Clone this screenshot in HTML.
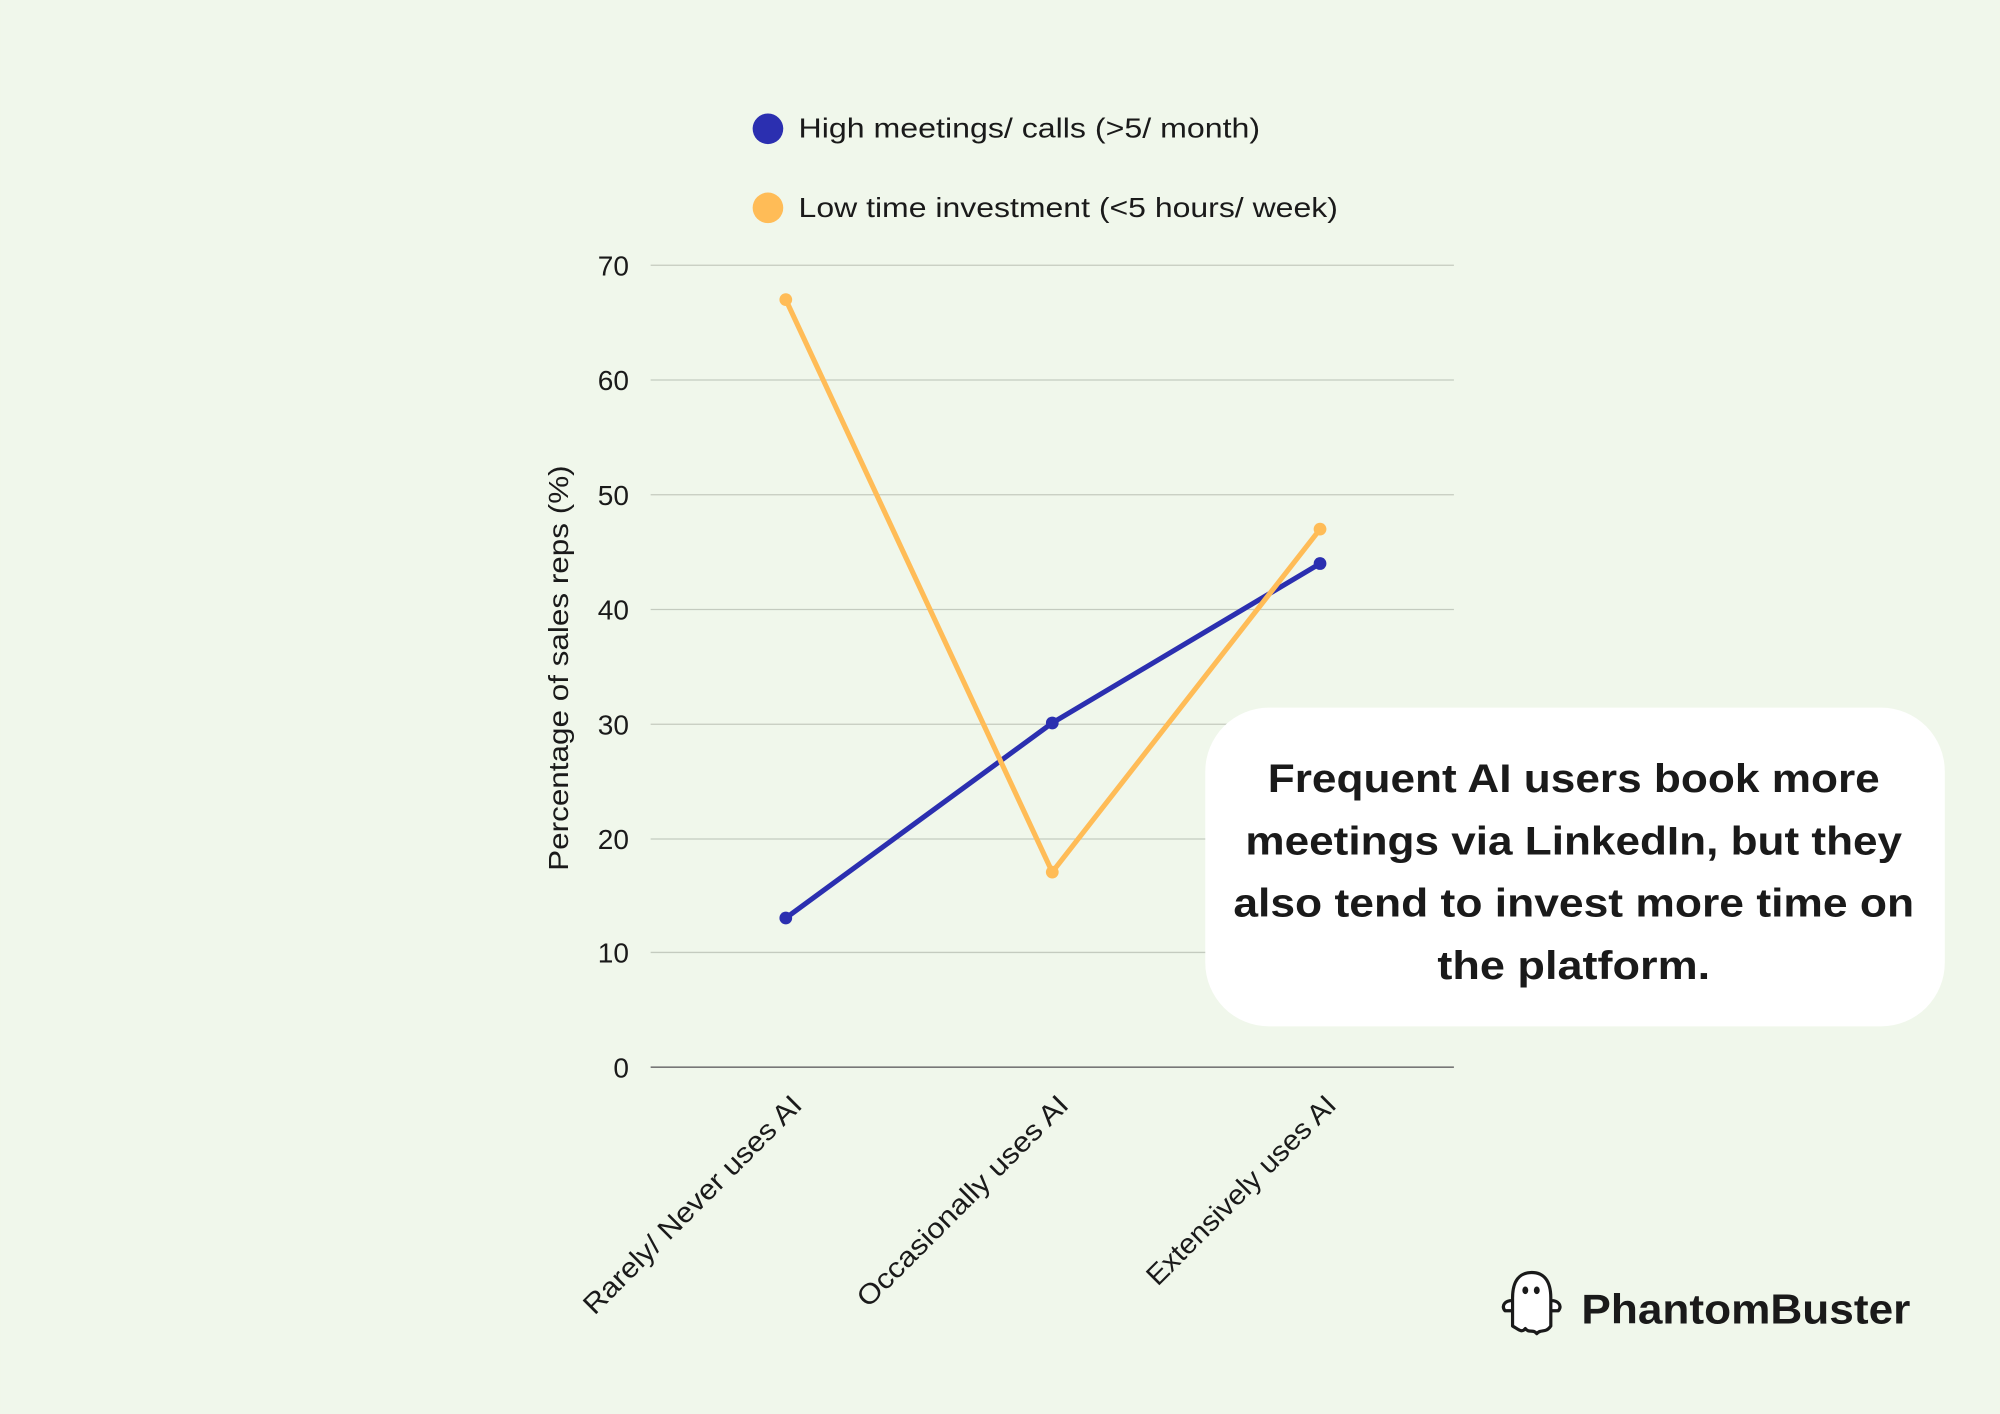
<!DOCTYPE html>
<html><head><meta charset="utf-8"><style>
html,body{margin:0;padding:0;background:#f0f7eb;}
svg{display:block;}
text{font-family:"Liberation Sans",sans-serif;fill:#1a1a1a;}
</style></head><body>
<svg width="2000" height="1414" viewBox="0 0 1568 1109" xmlns="http://www.w3.org/2000/svg">
<rect width="1568" height="1109" fill="#f0f7eb"/>
<circle cx="602" cy="101" r="12" fill="#2b2fb0"/>
<text x="626" y="108" font-size="22" textLength="362" lengthAdjust="spacingAndGlyphs">High meetings/ calls (&gt;5/ month)</text>
<circle cx="602" cy="163" r="12" fill="#ffbc57"/>
<text x="626" y="170" font-size="22" textLength="423" lengthAdjust="spacingAndGlyphs">Low time investment (&lt;5 hours/ week)</text>
<g stroke="#c4cbbf" stroke-width="1">
<line x1="510" x2="1140" y1="208" y2="208"/>
<line x1="510" x2="1140" y1="298" y2="298"/>
<line x1="510" x2="1140" y1="388" y2="388"/>
<line x1="510" x2="1140" y1="478" y2="478"/>
<line x1="510" x2="1140" y1="568" y2="568"/>
<line x1="510" x2="1140" y1="658" y2="658"/>
<line x1="510" x2="1140" y1="747" y2="747"/>
</g>
<line x1="510" x2="1140" y1="837" y2="837" stroke="#777" stroke-width="1.2"/>
<g font-size="22" text-anchor="end">
<text x="493" y="216">70</text><text x="493" y="306">60</text><text x="493" y="396">50</text>
<text x="493" y="486">40</text><text x="493" y="576">30</text><text x="493" y="666">20</text>
<text x="493" y="755">10</text><text x="493" y="845">0</text>
</g>
<text transform="translate(445,524) rotate(-90)" font-size="22" text-anchor="middle" textLength="318" lengthAdjust="spacingAndGlyphs">Percentage of sales reps (%)</text>
<g font-size="22" text-anchor="end">
<text transform="translate(630,868) rotate(-45)" textLength="232" lengthAdjust="spacingAndGlyphs">Rarely/ Never uses AI</text>
<text transform="translate(839,868) rotate(-45)" textLength="224" lengthAdjust="spacingAndGlyphs">Occasionally uses AI</text>
<text transform="translate(1049,868) rotate(-45)" textLength="200" lengthAdjust="spacingAndGlyphs">Extensively uses AI</text>
</g>
<polyline points="616,720 825,567 1035,442" fill="none" stroke="#2b2fb0" stroke-width="4" stroke-linejoin="round"/>
<g fill="#2b2fb0"><circle cx="616" cy="720" r="5"/><circle cx="825" cy="567" r="5"/><circle cx="1035" cy="442" r="5"/></g>
<polyline points="616,235 825,684 1035,415" fill="none" stroke="#ffbc57" stroke-width="4" stroke-linejoin="round"/>
<g fill="#ffbc57"><circle cx="616" cy="235" r="5"/><circle cx="825" cy="684" r="5"/><circle cx="1035" cy="415" r="5"/></g>
<rect x="945" y="555" width="580" height="250" rx="50" fill="#ffffff"/>
<g font-size="31" font-weight="bold" text-anchor="middle">
<text x="1234" y="621" textLength="480" lengthAdjust="spacingAndGlyphs">Frequent AI users book more</text>
<text x="1234" y="670" textLength="515" lengthAdjust="spacingAndGlyphs">meetings via LinkedIn, but they</text>
<text x="1234" y="719" textLength="534" lengthAdjust="spacingAndGlyphs">also tend to invest more time on</text>
<text x="1234" y="768" textLength="214" lengthAdjust="spacingAndGlyphs">the platform.</text>
</g>
<path d="M1186,1040 L1186,1018 C1186,1004 1192,998 1201,998 C1210,998 1216,1004 1216,1018 L1216,1040 C1212,1046 1208,1042 1205,1046 C1202,1042 1199,1046 1196,1042 C1193,1046 1190,1042 1186,1040 Z M1186,1020 C1180,1020 1177,1024 1180,1028 L1186,1028 M1216,1020 C1222,1020 1225,1024 1222,1028 L1216,1028" fill="#fff" stroke="#1a1a1a" stroke-width="2.5" stroke-linejoin="round"/>
<ellipse cx="1196" cy="1012" rx="2.3" ry="3" fill="#1a1a1a"/>
<ellipse cx="1205" cy="1012" rx="2.3" ry="3" fill="#1a1a1a"/>
<text x="1240" y="1038" font-size="33" font-weight="bold" textLength="258" lengthAdjust="spacingAndGlyphs">PhantomBuster</text>
</svg>
</body></html>
